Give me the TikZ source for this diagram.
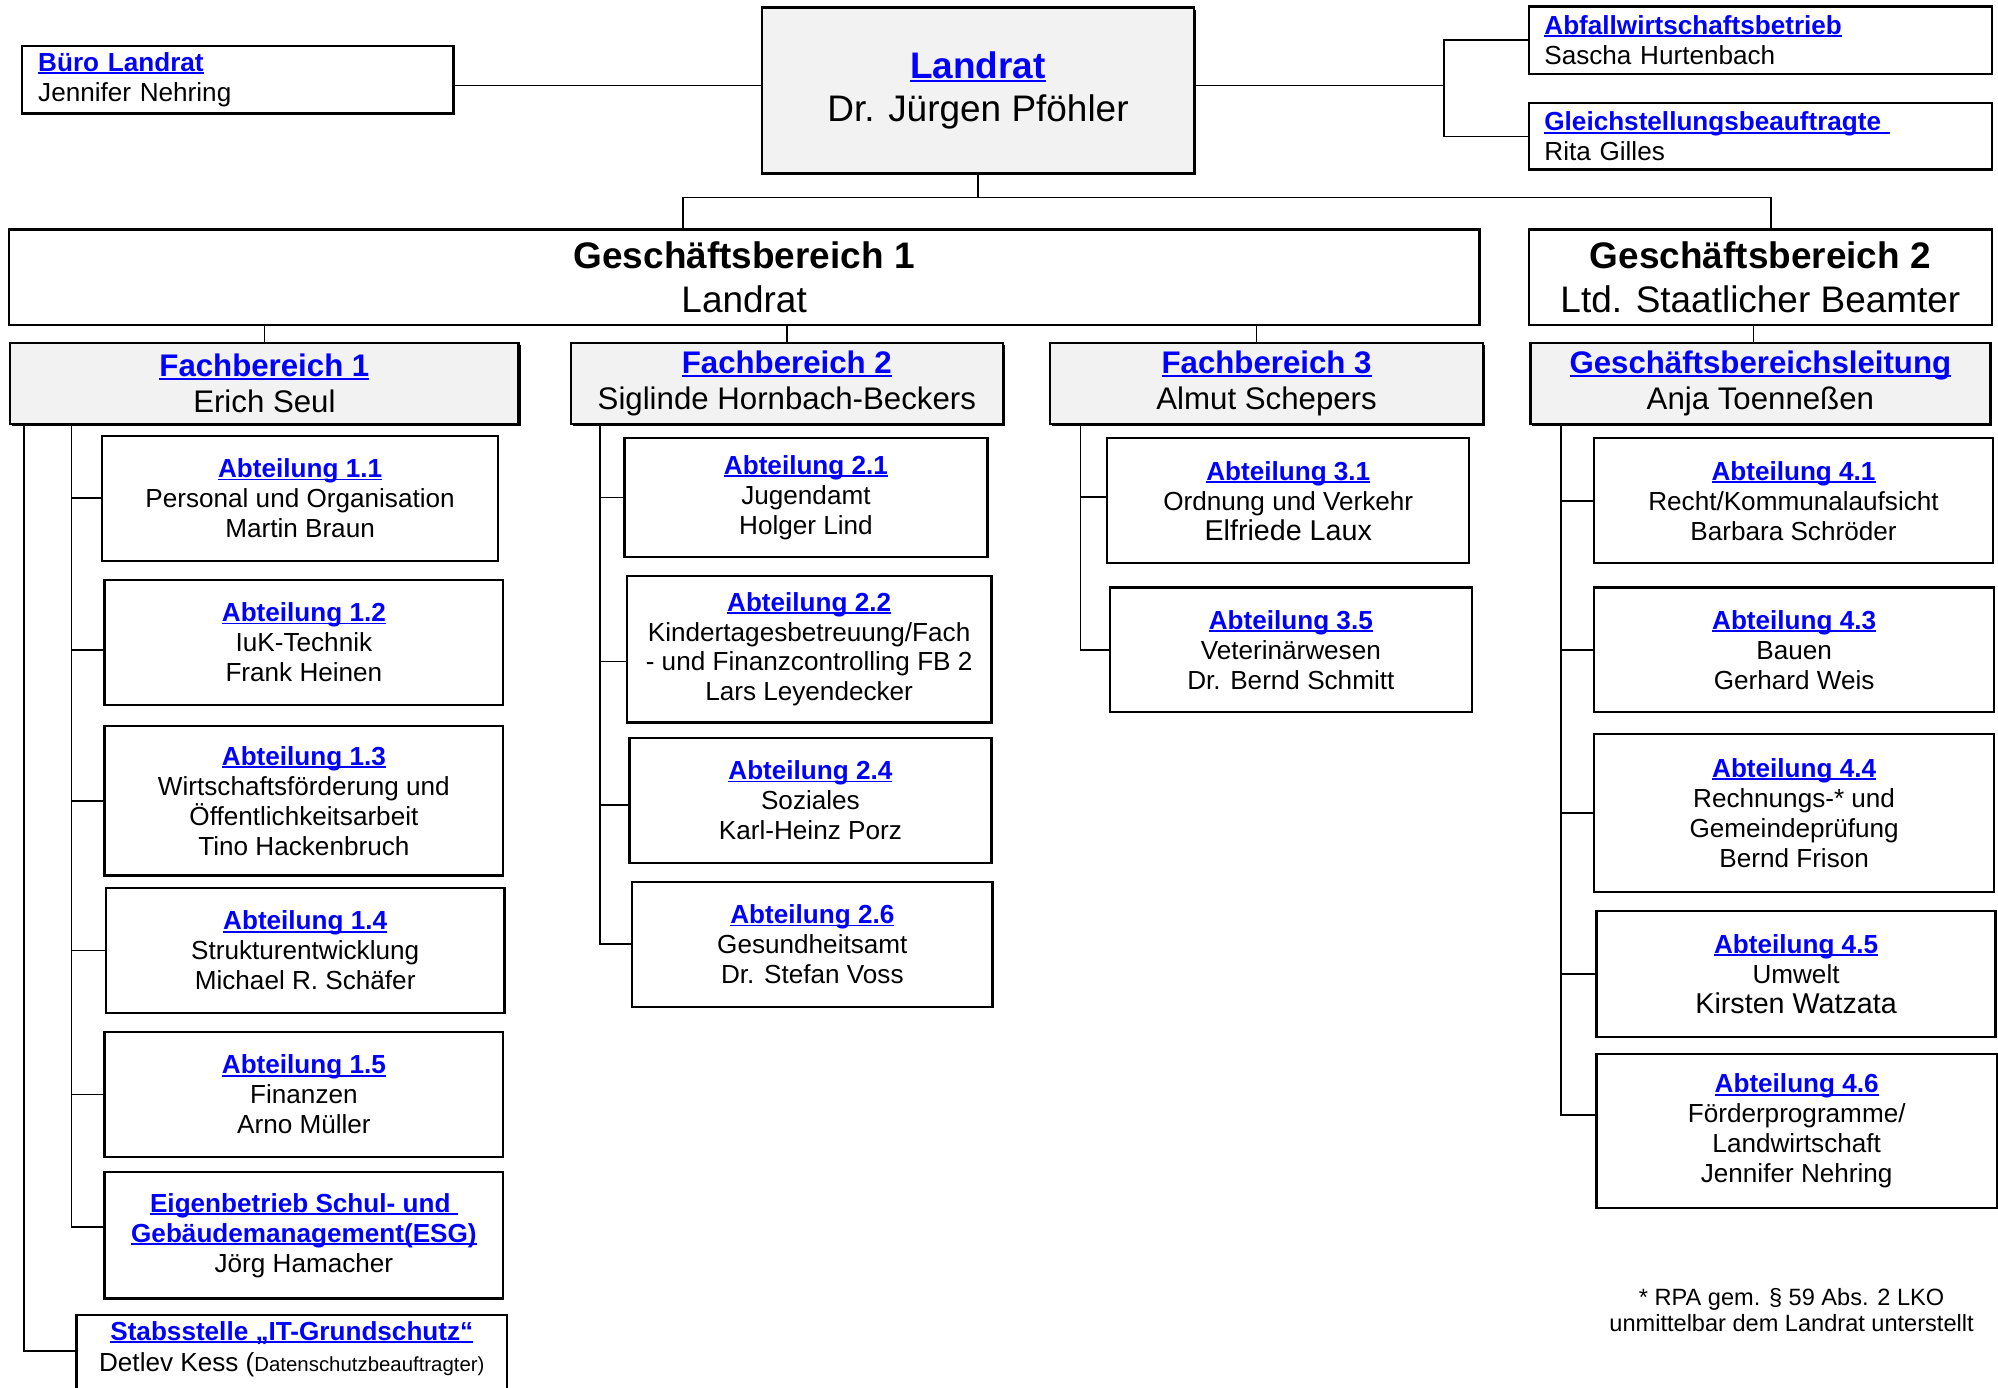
\documentclass[tikz,border=0pt]{standalone}
\usepackage{fontspec}
\setmainfont{Liberation Sans}
\usetikzlibrary{shadows}
\definecolor{lblue}{RGB}{0,0,255}
\definecolor{fbgray}{RGB}{242,242,242}
\newcommand\lnk[1]{{\bfseries\color{lblue}\setbox0\hbox{#1}\rlap{\rule[-0.11em]{\wd0}{0.075em}}\box0}}
\newcommand\fs[2]{\fontsize{#1}{#2}\selectfont}
\begin{document}
\begin{tikzpicture}[x=1pt,y=-1pt,line join=miter,
  box/.style={draw, line width=1.8pt, inner sep=0pt, align=center, font=\fs{20.5}{23.5}},
  shade/.style={drop shadow={shadow xshift=1.5pt, shadow yshift=-1.5pt, fill=black, opacity=1}},
  fbbox/.style={box, fill=fbgray, shade, minimum height=64pt, font=\fs{24.5}{28}},
  conn/.style={line width=1.3pt}]
\useasboundingbox (0,0) rectangle (1568,1089);

% top row
\node[box, minimum width=339pt, minimum height=53pt, text width=313pt, align=left, inner xsep=13pt] (buero) at (186.5,62.5) {\lnk{Büro Landrat}\\Jennifer Nehring};
\node[box, fill=fbgray, line width=2pt, shade, minimum width=339pt, minimum height=130pt, font=\fs{29}{34}] (landrat) at (767.5,71) {\lnk{Landrat}\\Dr. Jürgen Pföhler};
\node[box, minimum width=363pt, minimum height=53pt, text width=339pt, align=left, inner xsep=12pt] (abfall) at (1381.5,31.5) {\lnk{Abfallwirtschaftsbetrieb}\\Sascha Hurtenbach};
\node[box, minimum width=363pt, minimum height=52pt, text width=339pt, align=left, inner xsep=12pt] (gleich) at (1381.5,107) {\lnk{Gleichstellungsbeauftragte\ }\\Rita Gilles};

% Geschaeftsbereiche
\node[box, minimum width=1154pt, minimum height=75pt, font=\fs{29}{34}] (gb1) at (584,217.5) {\textbf{Geschäftsbereich 1}\\Landrat};
\node[box, minimum width=363pt, minimum height=75pt, font=\fs{29}{34}] (gb2) at (1381.5,217.5) {\textbf{Geschäftsbereich 2}\\Ltd. Staatlicher Beamter};

% Fachbereiche
\node[fbbox, minimum width=399pt] (fb1) at (207.5,301) {\lnk{Fachbereich 1}\\Erich Seul};
\node[fbbox, minimum width=339pt] (fb2) at (617.5,301) {\lnk{Fachbereich 2}\\Siglinde Hornbach-Beckers};
\node[fbbox, minimum width=340pt] (fb3) at (994,301) {\lnk{Fachbereich 3}\\Almut Schepers};
\node[fbbox, minimum width=361pt] (gbl) at (1381.5,301) {\lnk{Geschäftsbereichsleitung}\\Anja Toenneßen};

% FB1
\node[box, minimum width=311pt, minimum height=98pt] (a11) at (235.5,391) {\lnk{Abteilung 1.1}\\Personal und Organisation\\Martin Braun};
\node[box, minimum width=313pt, minimum height=98pt] (a12) at (238.5,504) {\lnk{Abteilung 1.2}\\IuK-Technik\\Frank Heinen};
\node[box, minimum width=313pt, minimum height=117pt] (a13) at (238.5,628.5) {\lnk{Abteilung 1.3}\\Wirtschaftsförderung und\\Öffentlichkeitsarbeit\\Tino Hackenbruch};
\node[box, minimum width=313pt, minimum height=98pt] (a14) at (239.5,746) {\lnk{Abteilung 1.4}\\Strukturentwicklung\\Michael R. Schäfer};
\node[box, minimum width=313pt, minimum height=98pt] (a15) at (238.5,859) {\lnk{Abteilung 1.5}\\Finanzen\\Arno Müller};
\node[box, minimum width=313pt, minimum height=99pt] (esg) at (238.5,969.5) {\lnk{Eigenbetrieb Schul- und\ }\\\lnk{Gebäudemanagement(ESG)}\\Jörg Hamacher};
\node[box, minimum width=338pt, minimum height=80pt, anchor=north] (stab) at (229,1031) {};
\node[font=\fs{20.5}{24}, align=center, anchor=north, inner sep=0pt] (stabtxt) at ([yshift=-6pt]stab.north) {\lnk{Stabsstelle „IT-Grundschutz“}\\Detlev Kess ({\fs{16}{24}Datenschutzbeauftragter)}};

% FB2
\node[box, minimum width=285pt, minimum height=93pt] (a21) at (632.5,390.5) {\lnk{Abteilung 2.1}\\Jugendamt\\Holger Lind};
\node[box, minimum width=286pt, minimum height=115pt] (a22) at (635,509.5) {\lnk{Abteilung 2.2}\\Kindertagesbetreuung/Fach\\- und Finanzcontrolling FB 2\\Lars Leyendecker};
\node[box, minimum width=284pt, minimum height=98pt] (a24) at (636,628) {\lnk{Abteilung 2.4}\\Soziales\\Karl-Heinz Porz};
\node[box, minimum width=283pt, minimum height=98pt] (a26) at (637.5,741) {\lnk{Abteilung 2.6}\\Gesundheitsamt\\Dr. Stefan Voss};

% FB3
\node[box, minimum width=284pt, minimum height=98pt] (a31) at (1011,393) {\lnk{Abteilung 3.1}\\Ordnung und Verkehr\\{\fs{22.5}{24}Elfriede Laux}};
\node[box, minimum width=284pt, minimum height=98pt] (a35) at (1013,510) {\lnk{Abteilung 3.5}\\Veterinärwesen\\Dr. Bernd Schmitt};

% GB2
\node[box, minimum width=313pt, minimum height=98pt] (a41) at (1407.5,393) {\lnk{Abteilung 4.1}\\Recht/Kommunalaufsicht\\Barbara Schröder};
\node[box, minimum width=314pt, minimum height=98pt] (a43) at (1408,510) {\lnk{Abteilung 4.3}\\Bauen\\Gerhard Weis};
\node[box, minimum width=314pt, minimum height=124pt] (a44) at (1408,638) {\lnk{Abteilung 4.4}\\Rechnungs-* und\\Gemeindeprüfung\\Bernd Frison};
\node[box, minimum width=313pt, minimum height=99pt] (a45) at (1409.5,764.5) {\lnk{Abteilung 4.5}\\Umwelt\\{\fs{22.5}{24}Kirsten Watzata}};
\node[box, minimum width=314pt, minimum height=121pt] (a46) at (1410,887.5) {\lnk{Abteilung 4.6}\\Förderprogramme/\\Landwirtschaft\\Jennifer Nehring};

% footnote
\node[font=\fs{18.5}{20.5}, align=center] (note) at (1406,1028) {* RPA gem. § 59 Abs. 2 LKO\\unmittelbar dem Landrat unterstellt};

% connectors top
\draw[conn] ([yshift=-4.5pt]buero.east) -- ([yshift=-4.5pt]buero.east -| landrat.west);
\coordinate (rj) at (1133,67);
\draw[conn] (landrat.east |- rj) -- (rj);
\draw[conn] (abfall.west) -| (rj) |- (gleich.west);
\coordinate (b1) at (536,155);
\coordinate (b2) at (1390,155);
\draw[conn] (landrat.south) -- (landrat.south |- b1);
\draw[conn] (gb1.north -| b1) -- (b1) -- (b2) -- (gb2.north -| b2);

% GB -> FB
\coordinate (x986) at (986,0);
\coordinate (x1376) at (1376,0);
\draw[conn] (gb1.south -| fb1.north) -- (fb1.north);
\draw[conn] (gb1.south -| fb2.north) -- (fb2.north);
\draw[conn] (gb1.south -| x986) -- (fb3.north -| x986);
\draw[conn] (gb2.south -| x1376) -- (gbl.north -| x1376);

% FB1 tree
\coordinate (t1a) at (19,0);
\coordinate (t1b) at (56,0);
\coordinate (stabc) at ([yshift=-29pt]stab.north west);
\coordinate (esgc) at ([yshift=6.5pt]esg.west);
\coordinate (a12c) at ([yshift=-6pt]a12.west);
\draw[conn] (fb1.south -| t1a) |- (stabc);
\draw[conn] (fb1.south -| t1b) |- (esgc);
\draw[conn] (a11.west -| t1b) -- (a11.west);
\draw[conn] (a12c -| t1b) -- (a12c);
\draw[conn] (a13.west -| t1b) -- (a13.west);
\draw[conn] (a14.west -| t1b) -- (a14.west);
\draw[conn] (a15.west -| t1b) -- (a15.west);

% FB2 tree
\coordinate (t2) at (471,0);
\coordinate (a22c) at ([yshift=-9.5pt]a22.west);
\coordinate (a24c) at ([yshift=-4pt]a24.west);
\draw[conn] (fb2.south -| t2) |- (a26.west);
\draw[conn] (a21.west -| t2) -- (a21.west);
\draw[conn] (a22c -| t2) -- (a22c);
\draw[conn] (a24c -| t2) -- (a24c);

% FB3 tree
\coordinate (t3) at (848,0);
\coordinate (a31c) at ([yshift=3pt]a31.west);
\draw[conn] (fb3.south -| t3) |- (a35.west);
\draw[conn] (a31c -| t3) -- (a31c);

% GBL tree
\coordinate (t4) at (1225,0);
\coordinate (a46c) at ([yshift=12.5pt]a46.west);
\draw[conn] (gbl.south -| t4) |- (a46c);
\draw[conn] (a41.west -| t4) -- (a41.west);
\draw[conn] (a43.west -| t4) -- (a43.west);
\draw[conn] (a44.west -| t4) -- (a44.west);
\draw[conn] (a45.west -| t4) -- (a45.west);
\end{tikzpicture}
\end{document}
